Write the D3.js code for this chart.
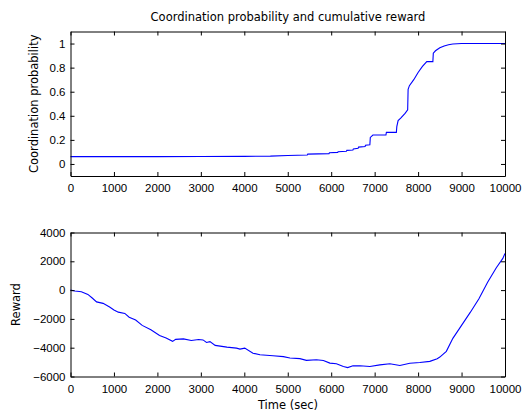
<!DOCTYPE html>
<html>
<head>
<meta charset="utf-8">
<script src="https://cdn.jsdelivr.net/npm/d3@7"></script>
<style>
  body { margin: 0; background: #fff; }
  svg { display: block; font-family: "DejaVu Sans", sans-serif; }
  .axis path, .axis line { stroke: #000; }
  .axis text { font-size: 11.5px; fill: #000; }
  .lbl { font-size: 11.5px; fill: #000; }
</style>
</head>
<body>
<svg id="fig"></svg>
<script>
var W = 528, H = 412;

// coordination probability vs time (sec)
var probTime = [0, 1000, 2000, 3000, 4000, 4600, 5000, 5450, 5460, 5950, 5960, 6150, 6160,
    6350, 6360, 6500, 6510, 6620, 6630, 6780, 6790, 6890, 6900, 6960, 7260, 7270, 7500,
    7510, 7540, 7600, 7700, 7760, 7770, 7800, 7900, 8000, 8100, 8200, 8340, 8350, 8400,
    8500, 8600, 8700, 8800, 9000, 9500, 10000];
var probValue = [0.061, 0.061, 0.061, 0.062, 0.063, 0.065, 0.07, 0.075, 0.082, 0.086, 0.093,
    0.096, 0.102, 0.106, 0.113, 0.116, 0.125, 0.13, 0.14, 0.145, 0.155, 0.16, 0.22, 0.24,
    0.24, 0.262, 0.262, 0.31, 0.36, 0.38, 0.42, 0.45, 0.62, 0.65, 0.7, 0.76, 0.81, 0.85,
    0.85, 0.92, 0.94, 0.965, 0.98, 0.99, 0.996, 1.0, 1.0, 1.0];

// cumulative reward vs time (sec)
var rewardTime = [0, 100, 250, 400, 500, 600, 750, 900, 1000, 1100, 1250, 1350, 1500, 1650,
    1850, 2050, 2200, 2350, 2420, 2600, 2780, 2950, 3050, 3130, 3210, 3330, 3600, 3820,
    3900, 4010, 4200, 4360, 4660, 4900, 5050, 5280, 5430, 5660, 5820, 5970, 6120, 6280,
    6380, 6500, 6660, 6890, 7120, 7350, 7580, 7810, 8040, 8270, 8440, 8500, 8650, 8800,
    9000, 9200, 9400, 9600, 9800, 9950, 10000];
var rewardValue = [0, -60, -120, -300, -550, -820, -920, -1180, -1380, -1530, -1620, -1880,
    -2080, -2450, -2760, -3150, -3330, -3560, -3420, -3390, -3500, -3430, -3460, -3640,
    -3580, -3840, -3960, -4030, -4100, -4030, -4380, -4490, -4560, -4620, -4720, -4760,
    -4880, -4840, -4890, -5070, -5120, -5300, -5380, -5260, -5250, -5310, -5190, -5110,
    -5240, -5080, -5030, -4950, -4760, -4650, -4250, -3350, -2450, -1550, -600, 550, 1550,
    2200, 2550];

var timeTicks = [0, 1000, 2000, 3000, 4000, 5000, 6000, 7000, 8000, 9000, 10000];
var probTicks = [0, 0.2, 0.4, 0.6, 0.8, 1];
var rewardTicks = [-6000, -4000, -2000, 0, 2000, 4000];

var svg = d3.select("#fig").attr("width", W).attr("height", H);
svg.append("rect").attr("width", W).attr("height", H).attr("fill", "#fff");

var x = d3.scaleLinear().domain([0, 10000]).range([70.5, 505]);

function panel(top, bottom, yDomain, yTicks, yFmt, times, values, ylabel, ylabelX) {
    var y = d3.scaleLinear().domain(yDomain).range([bottom, top]);
    var g = svg.append("g");

    var line = d3.line()
        .x(function (d) { return x(d[0]); })
        .y(function (d) { return y(d[1]); });
    g.append("path")
        .datum(d3.zip(times, values))
        .attr("fill", "none")
        .attr("stroke", "#0000ff")
        .attr("stroke-width", 1.1)
        .attr("d", line);

    // axes, ticks inside, mirrored on top and right
    g.append("g").attr("class", "axis")
        .attr("transform", "translate(0," + bottom + ")")
        .call(d3.axisBottom(x).tickValues(timeTicks).tickFormat(d3.format("d"))
            .tickSizeInner(-4).tickSizeOuter(0).tickPadding(8));
    g.append("g").attr("class", "axis")
        .attr("transform", "translate(0," + top + ")")
        .call(d3.axisTop(x).tickValues(timeTicks).tickFormat("")
            .tickSizeInner(-4).tickSizeOuter(0));
    g.append("g").attr("class", "axis")
        .attr("transform", "translate(" + x.range()[0] + ",0)")
        .call(d3.axisLeft(y).tickValues(yTicks).tickFormat(yFmt)
            .tickSizeInner(-4).tickSizeOuter(0).tickPadding(5));
    g.append("g").attr("class", "axis")
        .attr("transform", "translate(" + x.range()[1] + ",0)")
        .call(d3.axisRight(y).tickValues(yTicks).tickFormat("")
            .tickSizeInner(-4).tickSizeOuter(0));

    g.append("text").attr("class", "lbl")
        .attr("transform", "translate(" + ylabelX + "," + ((top + bottom) / 2) + ") rotate(-90)")
        .attr("text-anchor", "middle")
        .text(ylabel);
    return y;
}

function probFmt(d) {
    if (d === 0 || d === 1) return String(d);
    return d.toFixed(1);
}

panel(31.5, 176, [-0.1, 1.1], probTicks, probFmt,
    probTime, probValue, "Coordination probability", 38);
panel(232.5, 376.5, [-6000, 4000], rewardTicks, d3.format("d"),
    rewardTime, rewardValue, "Reward", 19.5);

svg.append("text").attr("class", "lbl")
    .attr("x", 288).attr("y", 20.5)
    .attr("text-anchor", "middle")
    .text("Coordination probability and cumulative reward");

svg.append("text").attr("class", "lbl")
    .attr("x", 288).attr("y", 409)
    .attr("text-anchor", "middle")
    .text("Time (sec)");
</script>
</body>
</html>
